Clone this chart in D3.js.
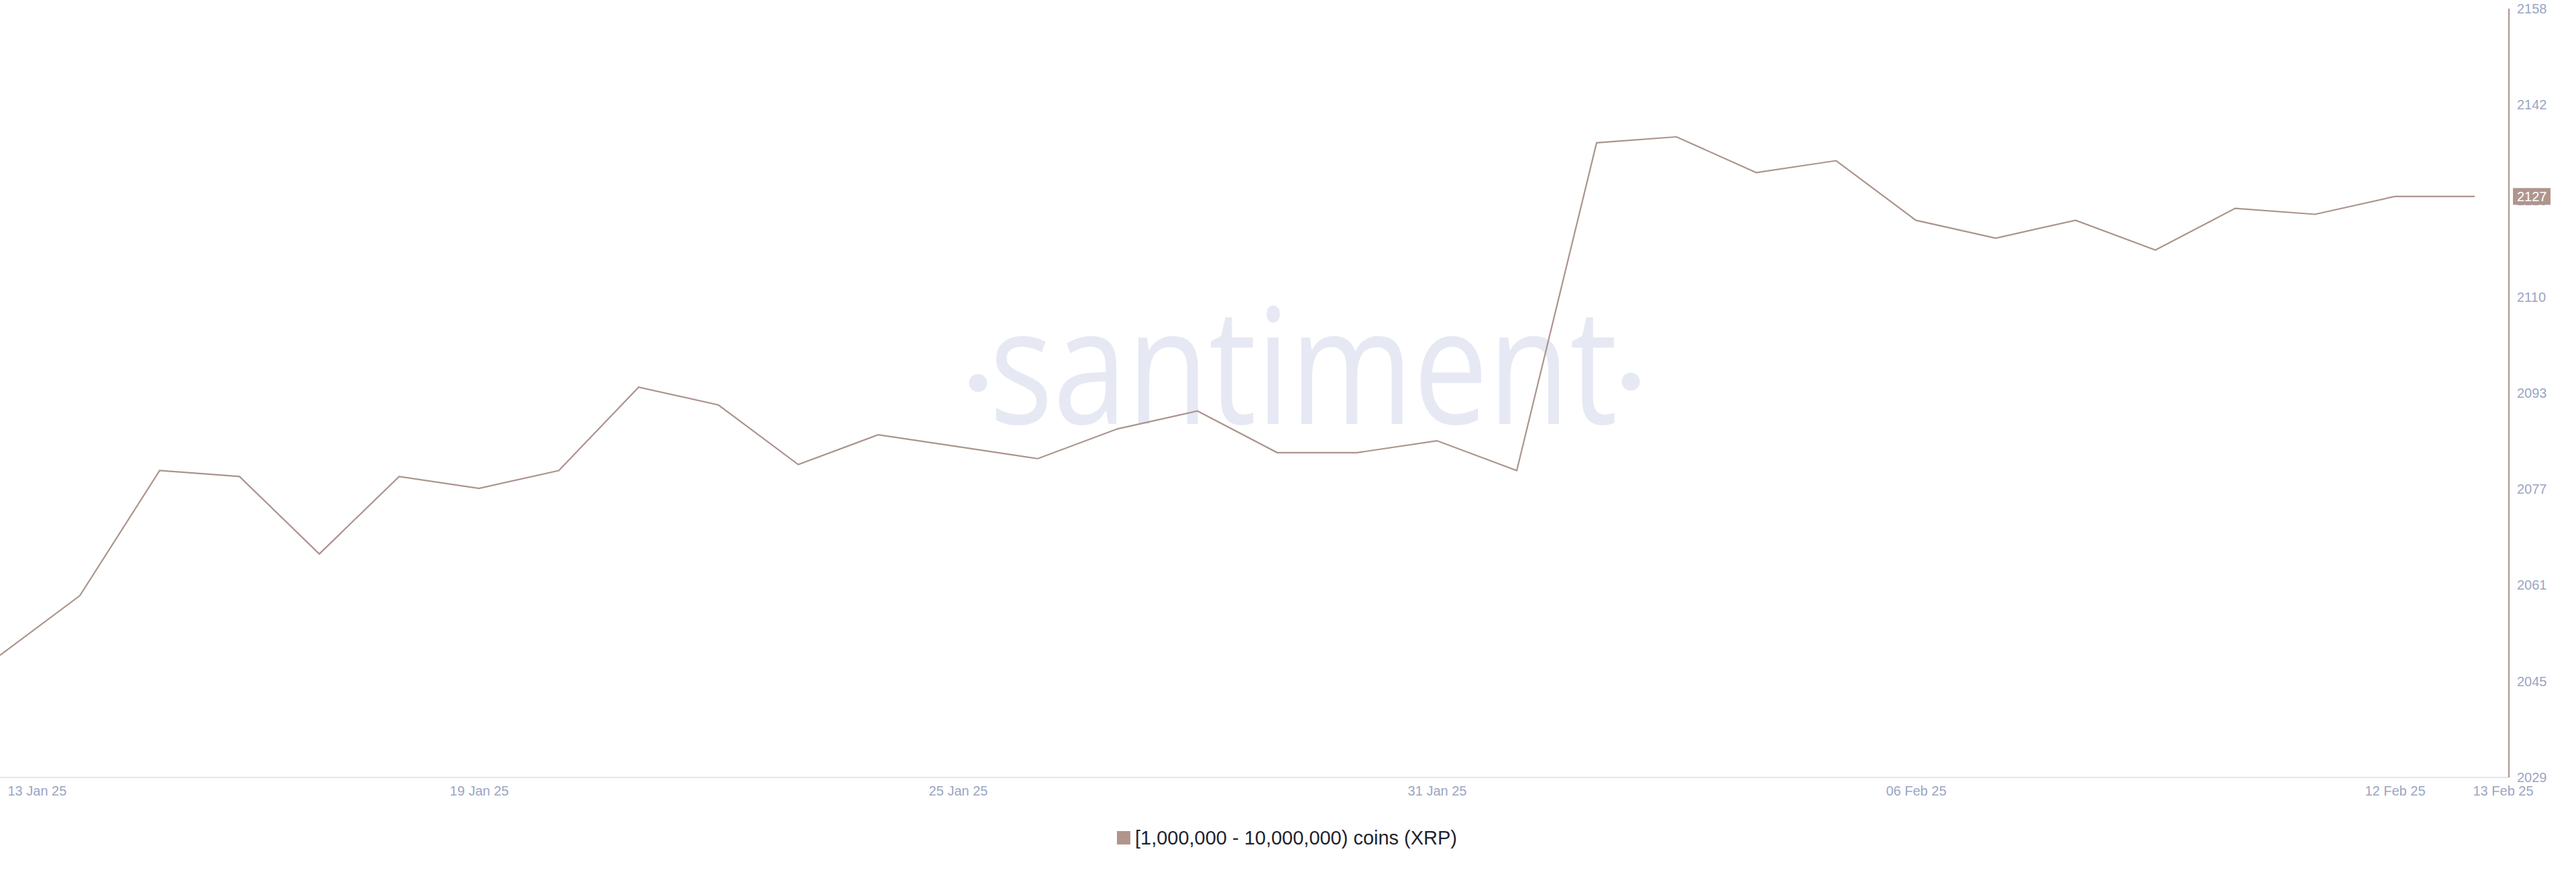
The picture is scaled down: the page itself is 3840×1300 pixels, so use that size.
<!DOCTYPE html>
<html><head><meta charset="utf-8">
<script src="https://cdn.jsdelivr.net/npm/d3@7"></script>
<style>html,body{margin:0;padding:0;background:#fff;} svg{display:block;}</style>
</head><body><svg id="chart" width="3840" height="1300"></svg>
<script>
// ---- data ----
const dates = ["2025-01-13","2025-01-14","2025-01-15","2025-01-16","2025-01-17","2025-01-18","2025-01-19","2025-01-20",
  "2025-01-21","2025-01-22","2025-01-23","2025-01-24","2025-01-25","2025-01-26","2025-01-27","2025-01-28",
  "2025-01-29","2025-01-30","2025-01-31","2025-02-01","2025-02-02","2025-02-03","2025-02-04","2025-02-05",
  "2025-02-06","2025-02-07","2025-02-08","2025-02-09","2025-02-10","2025-02-11","2025-02-12","2025-02-13"];
const holders = [2050,2060,2081,2080,2067,2080,2078,2081,2095,2092,2082,2087,2085,2083,2088,2091,
  2084,2084,2086,2081,2136,2137,2131,2133,2123,2120,2123,2118,2125,2124,2127,2127];
const xTickDates = ["2025-01-13","2025-01-19","2025-01-25","2025-01-31","2025-02-06","2025-02-12","2025-02-13"];
const xTickLabels = ["13 Jan 25","19 Jan 25","25 Jan 25","31 Jan 25","06 Feb 25","12 Feb 25","13 Feb 25"];
const yTickLabels = ["2029","2045","2061","2077","2093","2110","2126","2142","2158"];
const yDomain = [2029.5, 2158.5];
const seriesName = "[1,000,000 - 10,000,000) coins (XRP)";
const lastLabel = "2127";

// ---- layout ----
const svg = d3.select("#chart");
const parse = d3.utcParse("%Y-%m-%d");
const lineColor = "#ab948c";
const axisTextColor = "#9aa5c3";
const plotRight = 3740, plotBottom = 1159, plotTop = 13;

const x = d3.scaleUtc().domain([parse(dates[0]), parse(dates[dates.length-1])]).range([0, 3689]);
const y = d3.scaleLinear().domain(yDomain).range([plotBottom, plotTop]);

// watermark
const wm = svg.append("g").attr("fill", "#e6e9f3");
wm.append("text").attr("x", 1943).attr("y", 632).attr("text-anchor", "middle")
  .attr("font-family", "'Open Sans', sans-serif").attr("font-size", 241)
  .attr("textLength", 936).attr("lengthAdjust", "spacingAndGlyphs").text("santiment");
wm.append("circle").attr("cx", 1458).attr("cy", 571).attr("r", 13.5);
wm.append("circle").attr("cx", 2431).attr("cy", 569).attr("r", 13.5);

// x axis baseline
svg.append("line").attr("x1", 0).attr("x2", plotRight).attr("y1", plotBottom).attr("y2", plotBottom)
  .attr("stroke", "#e2e6f0").attr("stroke-width", 2);

// x axis labels
const xAxis = d3.axisBottom(x).tickValues(xTickDates.map(parse)).tickSize(0).tickPadding(13)
  .tickFormat((d, i) => xTickLabels[i]);
const gx = svg.append("g").attr("transform", `translate(0,${plotBottom})`).call(xAxis);
gx.select(".domain").remove();
gx.selectAll("text").attr("fill", axisTextColor).attr("font-size", 20)
  .attr("font-family", "'Liberation Sans', Arial, sans-serif")
  .each(function(d, i) {
    const t = d3.select(this);
    if (i === 0) t.attr("text-anchor", "start").attr("x", 11);
    else if (i === xTickLabels.length - 1) t.attr("text-anchor", "start").attr("x", -3);
  });

// y axis
const yTicks = yTickLabels.map((_, i) => yDomain[0] + i * (yDomain[1] - yDomain[0]) / (yTickLabels.length - 1));
const yAxis = d3.axisRight(y).tickValues(yTicks).tickSize(0).tickPadding(12)
  .tickFormat((d, i) => yTickLabels[i]);
const gy = svg.append("g").attr("transform", `translate(${plotRight},0)`).call(yAxis);
gy.select(".domain").remove();
gy.selectAll("text").attr("fill", axisTextColor).attr("font-size", 20)
  .attr("font-family", "'Liberation Sans', Arial, sans-serif");
svg.append("line").attr("x1", plotRight).attr("x2", plotRight).attr("y1", plotTop).attr("y2", plotBottom)
  .attr("stroke", lineColor).attr("stroke-width", 2);

// data line
const line = d3.line().x((d, i) => x(parse(dates[i]))).y(d => y(d));
svg.append("path").datum(holders).attr("d", line).attr("fill", "none")
  .attr("stroke", lineColor).attr("stroke-width", 2.2).attr("stroke-linejoin", "miter");

// last value badge
const lastY = y(holders[holders.length - 1]);
svg.append("rect").attr("x", plotRight + 6).attr("y", lastY - 12.5).attr("width", 56).attr("height", 25)
  .attr("fill", "#b0958c");
svg.append("text").attr("x", plotRight + 12).attr("y", lastY).attr("dy", "0.35em")
  .attr("fill", "#ffffff").attr("font-size", 20)
  .attr("font-family", "'Liberation Sans', Arial, sans-serif").text(lastLabel);

// legend
svg.append("rect").attr("x", 1665).attr("y", 1239).attr("width", 20).attr("height", 20).attr("fill", "#b0958c");
svg.append("text").attr("x", 1692).attr("y", 1249).attr("dy", "0.35em").attr("fill", "#1f2330")
  .attr("font-size", 29).attr("font-family", "'Liberation Sans', Arial, sans-serif")
  .attr("textLength", 480).attr("lengthAdjust", "spacingAndGlyphs").text(seriesName);
</script>
</body></html>
